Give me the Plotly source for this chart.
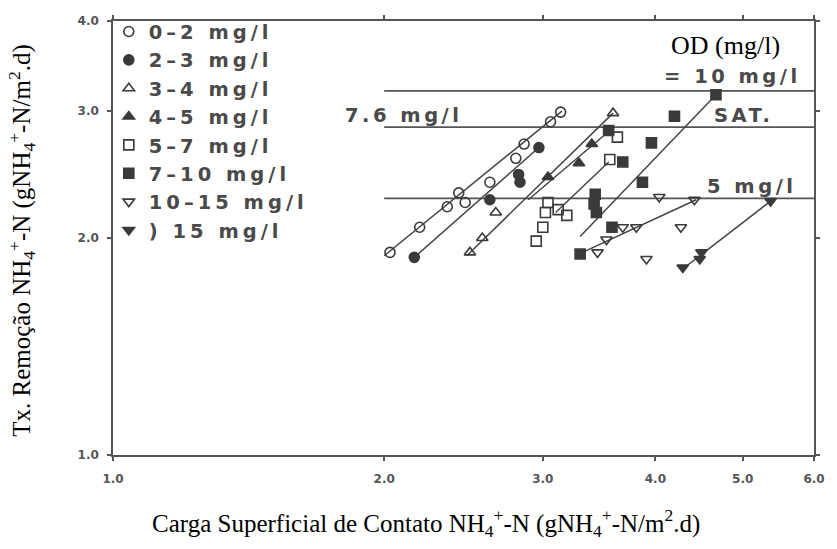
import plotly.graph_objects as go
import math

# ---------------- data ----------------
od_classes = ["0–2 mg/l", "2–3 mg/l", "3–4 mg/l", "4–5 mg/l",
              "5–7 mg/l", "7–10 mg/l", "10–15 mg/l", ") 15 mg/l"]
od_symbols = ["circle-open", "circle", "triangle-up-open", "triangle-up",
              "square-open", "square", "triangle-down-open", "triangle-down"]

x_0_2 = [2.03, 2.19, 2.35, 2.42, 2.46, 2.62, 2.80, 2.86, 3.06, 3.14]
y_0_2 = [1.91, 2.07, 2.21, 2.31, 2.24, 2.39, 2.58, 2.70, 2.90, 2.99]

x_2_3 = [2.16, 2.62, 2.82, 2.83, 2.97]
y_2_3 = [1.88, 2.26, 2.45, 2.39, 2.67]

x_3_4 = [2.49, 2.57, 2.66, 3.59]
y_3_4 = [1.91, 2.00, 2.17, 2.98]

x_4_5 = [3.04, 3.29, 3.40]
y_4_5 = [2.43, 2.54, 2.70]

x_5_7 = [2.95, 3.00, 3.02, 3.04, 3.12, 3.19, 3.56, 3.63]
y_5_7 = [1.98, 2.07, 2.17, 2.24, 2.19, 2.15, 2.57, 2.76]

x_7_10 = [3.30, 3.43, 3.42, 3.44, 3.58, 3.68, 3.55, 3.87, 3.96, 4.20, 4.67]
y_7_10 = [1.90, 2.30, 2.23, 2.17, 2.07, 2.55, 2.82, 2.39, 2.71, 2.95, 3.16]

x_10_15 = [4.04, 4.42, 3.68, 3.81, 4.27, 3.53, 3.45, 3.91]
y_10_15 = [2.28, 2.26, 2.07, 2.07, 2.07, 1.99, 1.91, 1.87]

x_15 = [5.37, 4.50, 4.48, 4.29]
y_15 = [2.25, 1.91, 1.87, 1.82]

series_x = [x_0_2, x_2_3, x_3_4, x_4_5, x_5_7, x_7_10, x_10_15, x_15]
series_y = [y_0_2, y_2_3, y_3_4, y_4_5, y_5_7, y_7_10, y_10_15, y_15]

# fitted lines (start, end) per class
fit_x = [[2.00, 3.15], [2.16, 2.97], [2.47, 3.59], [2.89, 3.55],
         [3.10, 3.55], [3.30, 4.67], [3.32, 4.44], [4.31, 5.37]]
fit_y = [[1.89, 3.00], [1.88, 2.67], [1.89, 2.98], [2.26, 2.81],
         [2.17, 2.55], [2.01, 3.16], [1.91, 2.26], [1.82, 2.25]]

# horizontal OD reference lines
ref_levels = [3.20, 2.85, 2.27]
ref_x = [2.0, 6.0]

x_ticks = [1, 2, 3, 4, 5, 6]
y_ticks = [1, 2, 3, 4]

ink = "#3a3a3a"
txt = "#4a4a4a"
sans = "DejaVu Sans"
serif = "Liberation Serif"

fig = go.Figure()

for lv in ref_levels:
    fig.add_trace(go.Scatter(x=ref_x, y=[lv, lv], mode="lines",
                             line=dict(color="#555555", width=1.6),
                             showlegend=False, hoverinfo="skip"))

for fx, fy in zip(fit_x, fit_y):
    fig.add_trace(go.Scatter(x=fx, y=fy, mode="lines",
                             line=dict(color="#444444", width=1.5),
                             showlegend=False, hoverinfo="skip"))

for name, sym, xs, ys in zip(od_classes, od_symbols, series_x, series_y):
    fig.add_trace(go.Scatter(x=xs, y=ys, mode="markers", name=name,
                             marker=dict(symbol=sym, size=10, color=ink,
                                         line=dict(color=ink, width=1.6))))

axis_common = dict(type="log", showline=True, linecolor="#555555", linewidth=1.6,
                   mirror="ticks", ticks="outside", ticklen=4, tickwidth=1.5,
                   tickcolor="#555555", showgrid=False, zeroline=False,
                   tickfont=dict(family=sans, size=12, color="#555555", weight="bold"))

fig.update_layout(
    width=837, height=549,
    margin=dict(l=113, r=12, t=20, b=94),
    paper_bgcolor="white", plot_bgcolor="white",
    xaxis=dict(range=[0, math.log10(6.0)], tickvals=x_ticks,
               ticktext=[f"{v:.1f}" for v in x_ticks], ticklabelstandoff=8,
               **axis_common),
    yaxis=dict(range=[0, math.log10(4.0)], tickvals=y_ticks,
               ticktext=[f"{v:.1f}" for v in y_ticks], ticklabelstandoff=6,
               **axis_common),
    legend=dict(x=-0.006, y=1.02, xanchor="left", yanchor="top",
                bgcolor="rgba(0,0,0,0)", borderwidth=0,
                font=dict(family=sans, size=19.5, color=txt, weight="bold")),
    showlegend=True,
)

def note(text, x, y, size=19.5, family=sans, color=txt, xanchor="left",
         weight="bold", align="left"):
    fig.add_annotation(text=text, x=x, y=y, xref="paper", yref="paper",
                       showarrow=False, xanchor=xanchor, yanchor="middle",
                       align=align,
                       font=dict(family=family, size=size, color=color, weight=weight))

note("7.6 mg/l", 0.328, 0.782)
note("= 10 mg/l", 0.783, 0.871)
note("SAT.", 0.855, 0.782)
note("5 mg/l", 0.844, 0.618)
note("OD (mg/l)", 0.874, 0.943, size=26, family=serif, color="black",
     xanchor="center", weight="normal", align="center")

note("Carga Superficial de Contato NH<sub>4</sub><sup>+</sup>-N (gNH<sub>4</sub><sup>+</sup>-N/m<sup>2</sup>.d)",
     0.446, -0.156, size=25, family=serif, color="black", xanchor="center",
     weight="normal", align="center")
fig.add_annotation(text="Tx. Remoção NH<sub>4</sub><sup>+</sup>-N (gNH<sub>4</sub><sup>+</sup>-N/m<sup>2</sup>.d)",
                   x=-0.131, y=0.494, xref="paper", yref="paper", showarrow=False,
                   textangle=-90, xanchor="center", yanchor="middle",
                   font=dict(family=serif, size=25, color="black"))

# the scanned plotter lettering is wider than any installed sans font:
# widen it with letter spacing (and let the legend text run past its box)
post = """
var st = document.createElement('style');
st.textContent = '.legendtext{letter-spacing:4px;} ' +
                 'g.scrollbox{clip-path:none !important;} ' +
                 'text.annotation-text[style*="DejaVu"]{letter-spacing:3.5px;}';
document.head.appendChild(st);
"""

fig.write_html("out.html", post_script=post)
